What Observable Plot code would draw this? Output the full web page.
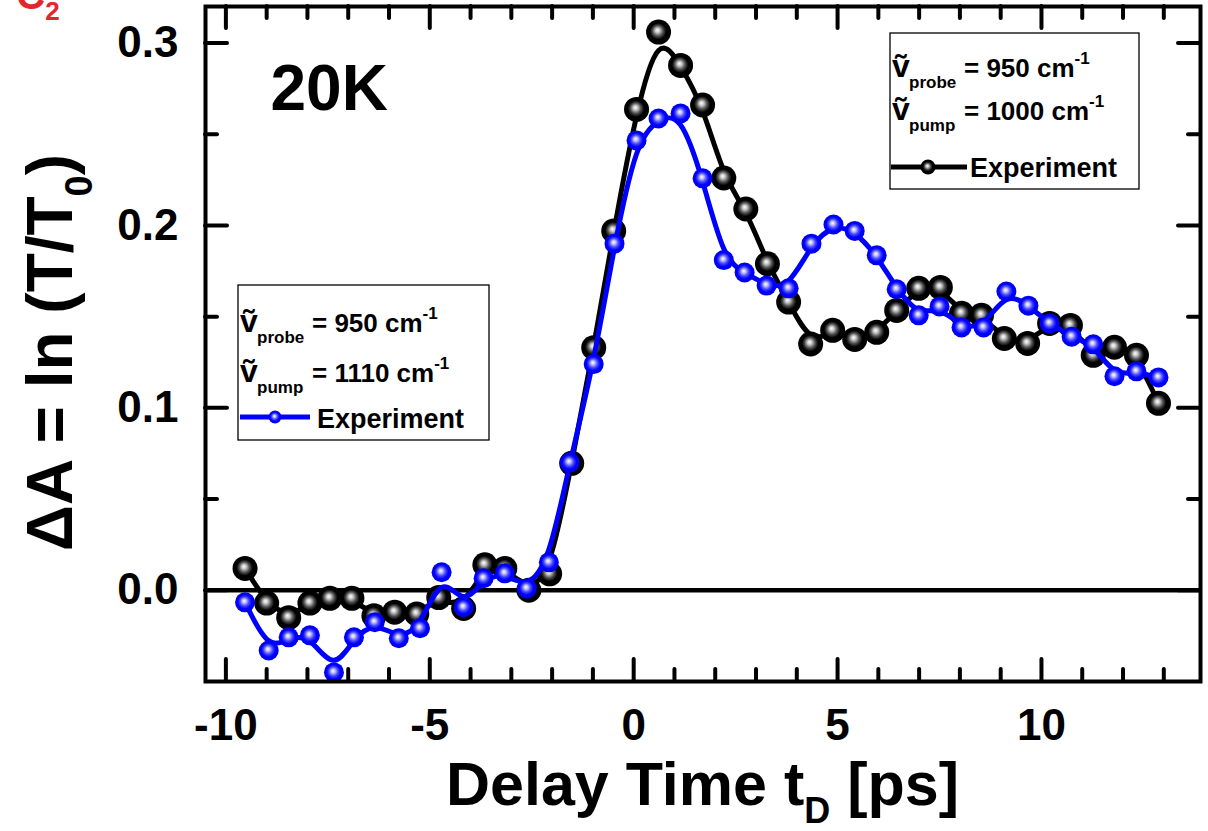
<!DOCTYPE html>
<html><head><meta charset="utf-8">
<script src="https://cdn.jsdelivr.net/npm/d3@7"></script>
<script src="https://cdn.jsdelivr.net/npm/@observablehq/plot@0.6"></script>
<style>
body{margin:0;background:#fff;}
svg{display:block;}
#chart text{font-family:"Liberation Sans",Arial,sans-serif;font-weight:bold;}
</style>
</head><body>
<svg width="0" height="0" style="position:absolute">
<defs>
<radialGradient id="ballBlack" cx="0.5" cy="0.5" r="0.5" fx="0.45" fy="0.42">
<stop offset="0" stop-color="#ffffff"/><stop offset="0.18" stop-color="#c8c8c8"/><stop offset="0.42" stop-color="#505050"/><stop offset="0.65" stop-color="#000"/><stop offset="1" stop-color="#000"/>
</radialGradient>
<radialGradient id="ballBlue" cx="0.5" cy="0.5" r="0.5" fx="0.45" fy="0.42">
<stop offset="0" stop-color="#ffffff"/><stop offset="0.2" stop-color="#c0c0ff"/><stop offset="0.45" stop-color="#4848ff"/><stop offset="0.7" stop-color="#0000ff"/><stop offset="1" stop-color="#0000f0"/>
</radialGradient>
</defs></svg>
<div id="chart"></div>
<script>
// Delay time (ps) and ΔA for pump 1000 cm-1 (black)
const tBlack = [-9.53,-9.0,-8.46,-7.94,-7.45,-6.91,-6.37,-5.86,-5.32,-4.78,-4.17,-3.65,-3.16,-2.57,-2.06,-1.52,-0.98,-0.49,0.07,0.61,1.15,1.69,2.21,2.75,3.28,3.8,4.34,4.88,5.42,5.96,6.45,6.99,7.52,8.04,8.53,9.09,9.66,10.2,10.71,11.27,11.79,12.33,12.87];
const aBlack = [0.012,-0.007,-0.015,-0.007,-0.0044,-0.0044,-0.014,-0.012,-0.013,-0.004,-0.010,0.014,0.012,0.0,0.009,0.0696,0.133,0.197,0.2636,0.306,0.2877,0.266,0.226,0.209,0.179,0.158,0.135,0.1425,0.1375,0.1414,0.1534,0.1655,0.166,0.1518,0.1507,0.138,0.1353,0.1463,0.1452,0.1288,0.1332,0.1288,0.1025];
// Delay time (ps) and ΔA for pump 1110 cm-1 (blue)
const tBlue = [-9.53,-8.95,-8.46,-7.94,-7.35,-6.86,-6.35,-5.76,-5.24,-4.71,-4.17,-3.68,-3.16,-2.62,-2.08,-1.57,-0.98,-0.47,0.07,0.61,1.15,1.69,2.21,2.72,3.26,3.8,4.36,4.9,5.42,5.96,6.45,6.99,7.5,8.04,8.58,9.14,9.68,10.2,10.74,11.27,11.79,12.33,12.87];
const aBlue = [-0.0066,-0.033,-0.0258,-0.0247,-0.045,-0.0258,-0.0175,-0.0263,-0.0208,0.0099,-0.0093,0.0066,0.0093,0.001,0.0153,0.070,0.124,0.19,0.2466,0.2586,0.2614,0.2258,0.181,0.1742,0.167,0.1655,0.19,0.2005,0.197,0.1836,0.165,0.1507,0.1556,0.1441,0.1441,0.1638,0.156,0.1463,0.139,0.1348,0.1173,0.12,0.1167];

const xMajor = [-10,-5,0,5,10];
const xMinor = [-9,-8,-7,-6,-4,-3,-2,-1,1,2,3,4,6,7,8,9,11,12,13];
const yMajor = [0.0,0.1,0.2,0.3];
const yMinor = [0.05,0.15,0.25];
const xDomain = [-10.5,13.9];
const yDomain = [-0.05,0.32];

const black = tBlack.map((t,i)=>({t, a:aBlack[i]}));
const blue = tBlue.map((t,i)=>({t, a:aBlue[i]}));

const W=1208,H=831,mL=205,mR=8,mT=6,mB=150;
const fw=W-mL-mR, fh=H-mT-mB;
const FONT='"Liberation Sans",Arial,sans-serif';
const tickStyle={stroke:"#000",strokeWidth:4,strokeLinecap:"round"};

const svg = Plot.plot({
  width:W,height:H,marginLeft:mL,marginRight:mR,marginTop:mT,marginBottom:mB,
  style:{fontFamily:FONT,fontWeight:"bold",background:"#fff"},
  x:{domain:xDomain},
  y:{domain:yDomain},
  marks:[
    Plot.ruleY([0],{stroke:"#000",strokeWidth:4.5}),
    // ticks, pointing inward on all four sides
    Plot.tickX(xMajor,{x:d=>d,...tickStyle,insetTop:fh-22}),
    Plot.tickX(xMajor,{x:d=>d,...tickStyle,insetBottom:fh-22}),
    Plot.tickX(xMinor,{x:d=>d,...tickStyle,insetTop:fh-12}),
    Plot.tickX(xMinor,{x:d=>d,...tickStyle,insetBottom:fh-12}),
    Plot.tickY(yMajor,{y:d=>d,...tickStyle,insetRight:fw-22}),
    Plot.tickY(yMajor,{y:d=>d,...tickStyle,insetLeft:fw-22}),
    Plot.tickY(yMinor,{y:d=>d,...tickStyle,insetRight:fw-12}),
    Plot.tickY(yMinor,{y:d=>d,...tickStyle,insetLeft:fw-12}),
    Plot.axisX(xMajor,{tickSize:0,tickPadding:27,fontSize:44,fontWeight:"bold",fill:"#000",tickFormat:d=>String(d),label:null}),
    Plot.axisY(yMajor,{tickSize:0,tickPadding:27,fontSize:44,fontWeight:"bold",fill:"#000",tickFormat:d3.format(".1f"),label:null}),
    Plot.line(black,{x:"t",y:"a",curve:"basis",stroke:"#000",strokeWidth:5}),
    Plot.dot(black,{x:"t",y:"a",r:12.5,fill:"url(#ballBlack)",stroke:"none"}),
    Plot.line(blue,{x:"t",y:"a",curve:"basis",stroke:"#0000ff",strokeWidth:5}),
    Plot.dot(blue,{x:"t",y:"a",r:10,fill:"url(#ballBlue)",stroke:"none"}),
    Plot.text(["20K"],{frameAnchor:"top-left",dx:65,dy:58,fontSize:64,fontWeight:"bold",textAnchor:"start",lineAnchor:"top"}),
    Plot.frame({stroke:"#000",strokeWidth:4})
  ]
});
document.getElementById("chart").appendChild(svg);

const s = d3.select(svg);
function txt(x,y,str,size,opts={}){
  const t = s.append("text").attr("x",x).attr("y",y).attr("font-size",size)
    .attr("font-family",FONT).attr("font-weight","bold").attr("fill",opts.fill||"#000")
    .attr("text-anchor",opts.anchor||"start");
  t.text(str);
  return t;
}
// x axis title
const xt = s.append("text").attr("x",mL+fw/2).attr("y",805).attr("text-anchor","middle")
  .attr("font-family",FONT).attr("font-weight","bold").attr("font-size",61).attr("fill","#000");
xt.append("tspan").text("Delay Time t");
xt.append("tspan").attr("font-size",36).attr("dy",18).text("D");
xt.append("tspan").attr("dy",-18).text(" [ps]");
// y axis title
const yt = s.append("text").attr("transform",`translate(72,${mT+fh/2+9}) rotate(-90)`).attr("text-anchor","middle")
  .attr("font-family",FONT).attr("font-weight","bold").attr("font-size",64).attr("fill","#000");
yt.append("tspan").text("\u0394A = ln (T/T");
yt.append("tspan").attr("font-size",38).attr("dy",20).text("0");
yt.append("tspan").attr("dy",-20).text(")");
// red panel label, cut off at top as in the original figure
const c2 = s.append("text").attr("x",38).attr("y",9).attr("font-family",FONT).attr("font-weight","bold")
  .attr("font-size",40).attr("fill","#e3262b");
c2.append("tspan").text("C");
c2.append("tspan").attr("font-size",26).attr("dy",11).text("2");

// legends
function legend(bx,by,bw,bh,ox,b1,b2,pump,color,grad,ballR,lineY,lineX0,lineX1,ballX,expX,expY){
  s.append("rect").attr("x",bx).attr("y",by).attr("width",bw).attr("height",bh)
    .attr("fill","#fff").attr("stroke","#000").attr("stroke-width",1.3);
  [[b1,"probe","= 950 cm"],[b2,"pump",`= ${pump} cm`]].forEach(([b,sub,val])=>{
    txt(ox,b,"\u1E7D",32);
    txt(ox+17,b+11,sub,17);
    const v = txt(ox+72,b,val,26);
    v.append("tspan").attr("font-size",17).attr("dy",-13).text("-1");
  });
  s.append("line").attr("x1",lineX0).attr("x2",lineX1).attr("y1",lineY).attr("y2",lineY)
    .attr("stroke",color).attr("stroke-width",5);
  s.append("circle").attr("cx",ballX).attr("cy",lineY).attr("r",ballR).attr("fill",grad);
  txt(expX,expY,"Experiment",27);
}
legend(890,33,249,156,892,77,120,"1000","#000","url(#ballBlack)",7.5,167,891,967,928,970,177);
legend(238,285,251,155,240,332,382,"1110","#0000ff","url(#ballBlue)",6.5,417,240,310,275,317,428);
</script>
</body></html>
